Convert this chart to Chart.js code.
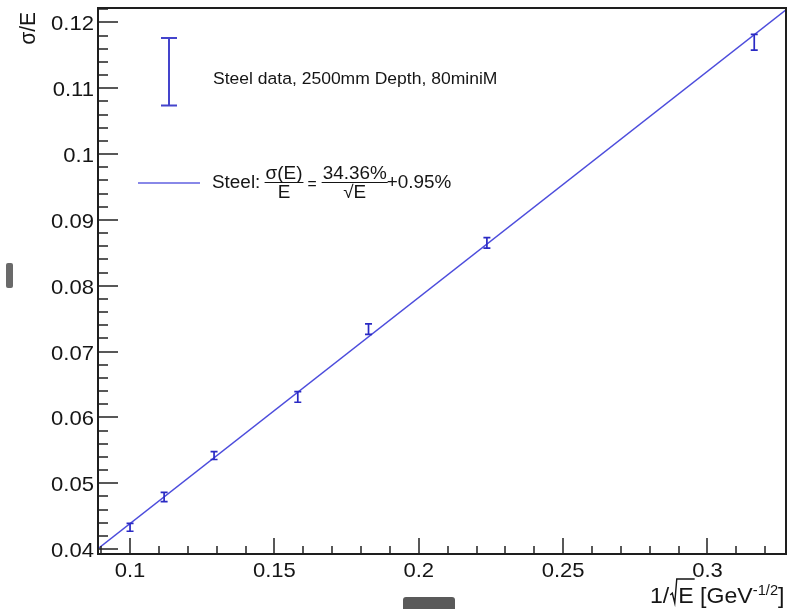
<!DOCTYPE html>
<html>
<head>
<meta charset="utf-8">
<script src="https://cdn.jsdelivr.net/npm/chart.js@4/dist/chart.umd.min.js"></script>
<style>
  html, body { margin: 0; padding: 0; background: #fff; }
  canvas { display: block; }
</style>
</head>
<body>
<canvas id="resChart" width="788" height="609"></canvas>
<script>
// measured points: 1/sqrt(E) for 100, 80, 60, 40, 30, 20, 10 GeV
const invSqrtE = [0.1, 0.1118, 0.1291, 0.1581, 0.1826, 0.2236, 0.3162];
const sigmaOverE = [0.0433, 0.0479, 0.0542, 0.0631, 0.0734, 0.0865, 0.1170];
const sigmaErr = [0.0006, 0.0007, 0.0006, 0.0008, 0.0008, 0.0008, 0.0012];

// fit result as quoted in the legend (stochastic term, constant term)
const fitStochastic = 0.3436;
const fitConstant = 0.0095;

// axis ranges and labelled ticks
const xRange = [0.0889, 0.3272];
const yRange = [0.03924, 0.1222];
const xTicks = [0.1, 0.15, 0.2, 0.25, 0.3];
const xTickLabels = ['0.1', '0.15', '0.2', '0.25', '0.3'];
const yTicks = [0.04, 0.05, 0.06, 0.07, 0.08, 0.09, 0.1, 0.11, 0.12];
const yTickLabels = ['0.04', '0.05', '0.06', '0.07', '0.08', '0.09', '0.1', '0.11', '0.12'];

const FONT = "'Liberation Sans', Arial, Helvetica, sans-serif";
const SX = 1.05;          // slight horizontal widening of all text
const INK = '#151515';
const BAR_BLUE = '#2a2ac4';
const LINE_BLUE = '#4c4cdc';

// fit line spans the whole x range
const fitLine = xRange.map(x => ({ x: x, y: fitStochastic * x + fitConstant }));
const points = invSqrtE.map((x, i) => ({ x: x, y: sigmaOverE[i] }));

// draw text widened by SX, returns advance width
function wideText(ctx, str, x, y, size, align) {
    ctx.save();
    ctx.font = size + 'px ' + FONT;
    ctx.translate(x, y);
    ctx.scale(SX, 1);
    ctx.textAlign = align || 'left';
    ctx.textBaseline = 'alphabetic';
    ctx.fillText(str, 0, 0);
    const w = ctx.measureText(str).width * SX;
    ctx.restore();
    return w;
}
function textW(ctx, str, size) {
    ctx.save();
    ctx.font = size + 'px ' + FONT;
    const w = ctx.measureText(str).width * SX;
    ctx.restore();
    return w;
}

// ==========================================
// ROOT style frame, inward ticks, labels
// ==========================================
const rootFrame = {
    id: 'rootFrame',
    beforeDraw(chart) {
        const ctx = chart.ctx;
        ctx.save();
        ctx.fillStyle = '#fff';
        ctx.fillRect(0, 0, chart.width, chart.height);
        ctx.restore();
    },
    afterDatasetsDraw(chart) {
        const ctx = chart.ctx;
        const a = chart.chartArea;
        const xs = chart.scales.x, ys = chart.scales.y;

        // error bars
        ctx.save();
        ctx.beginPath();
        ctx.rect(a.left, a.top, a.right - a.left, a.bottom - a.top);
        ctx.clip();
        ctx.strokeStyle = BAR_BLUE;
        ctx.lineWidth = 1.7;
        invSqrtE.forEach((xv, i) => {
            const px = xs.getPixelForValue(xv);
            const top = ys.getPixelForValue(sigmaOverE[i] + sigmaErr[i]);
            const bot = ys.getPixelForValue(sigmaOverE[i] - sigmaErr[i]);
            ctx.beginPath();
            ctx.moveTo(px, top); ctx.lineTo(px, bot);
            ctx.moveTo(px - 3.5, top); ctx.lineTo(px + 3.5, top);
            ctx.moveTo(px - 3.5, bot); ctx.lineTo(px + 3.5, bot);
            ctx.stroke();
        });
        ctx.restore();
    },
    afterDraw(chart) {
        const ctx = chart.ctx;
        const a = chart.chartArea;
        const xs = chart.scales.x, ys = chart.scales.y;

        ctx.save();
        ctx.strokeStyle = '#222';
        ctx.lineWidth = 1.5;

        // y ticks (major every 0.01, minor every 0.002)
        ctx.beginPath();
        for (let v = 0.038; v <= yRange[1] + 1e-9; v += 0.002) {
            const py = Math.round(ys.getPixelForValue(v));
            if (py < a.top || py > a.bottom) continue;
            const major = Math.abs(v * 100 - Math.round(v * 100)) < 1e-6;
            ctx.moveTo(a.left, py);
            ctx.lineTo(a.left + (major ? 20 : 10), py);
        }
        // x ticks (major every 0.05, minor every 0.01)
        for (let v = 0.09; v <= xRange[1] + 1e-9; v += 0.01) {
            const px = Math.round(xs.getPixelForValue(v));
            if (px < a.left + 2 || px > a.right) continue;
            const major = Math.abs(v * 20 - Math.round(v * 20)) < 1e-6;
            ctx.moveTo(px, a.bottom);
            ctx.lineTo(px, a.bottom - (major ? 16 : 8));
        }
        ctx.stroke();

        // frame
        ctx.lineWidth = 2;
        ctx.strokeStyle = '#1e1e1e';
        ctx.strokeRect(a.left, a.top, a.right - a.left, a.bottom - a.top);

        // tick labels
        ctx.fillStyle = INK;
        yTicks.forEach((v, i) => {
            wideText(ctx, yTickLabels[i], 94, ys.getPixelForValue(v) + 8, 21, 'right');
        });
        xTicks.forEach((v, i) => {
            wideText(ctx, xTickLabels[i], xs.getPixelForValue(v), 577, 21, 'center');
        });

        // y title, rotated
        ctx.save();
        ctx.font = '21px ' + FONT;
        ctx.translate(35, 12);
        ctx.scale(SX, 1);
        ctx.rotate(-Math.PI / 2);
        ctx.textAlign = 'right';
        ctx.fillText('σ/E', 0, 0);
        ctx.restore();

        // x title: 1/sqrt(E) [GeV^-1/2], radical drawn by hand
        let tx = 650;
        const base = 603;
        tx += wideText(ctx, '1/', tx, base, 22) + 1;
        const ew = textW(ctx, 'E', 22);
        ctx.beginPath();
        ctx.lineWidth = 1.4;
        ctx.strokeStyle = INK;
        ctx.moveTo(tx, base - 8);
        ctx.lineTo(tx + 2, base - 10);
        ctx.lineTo(tx + 4.5, base);
        ctx.lineTo(tx + 6.5, base - 24);
        ctx.lineTo(tx + 8 + ew + 1, base - 24);
        ctx.stroke();
        tx += 8;
        tx += wideText(ctx, 'E', tx, base, 22);
        tx += wideText(ctx, ' [GeV', tx, base, 22);
        tx += wideText(ctx, '-1/2', tx, base - 8, 14);
        wideText(ctx, ']', tx, base, 22);

        // legend: error bar entry
        ctx.strokeStyle = '#4444cc';
        ctx.lineWidth = 2;
        ctx.beginPath();
        ctx.moveTo(169, 38); ctx.lineTo(169, 105.5);
        ctx.moveTo(161, 38); ctx.lineTo(177, 38);
        ctx.moveTo(161, 105.5); ctx.lineTo(177, 105.5);
        ctx.stroke();
        ctx.fillStyle = INK;
        wideText(ctx, 'Steel data, 2500mm Depth, 80miniM', 213, 84, 16.7);

        // legend: fit line entry
        ctx.strokeStyle = '#6060e0';
        ctx.lineWidth = 1.5;
        ctx.beginPath();
        ctx.moveTo(138, 183); ctx.lineTo(200, 183);
        ctx.stroke();

        let lx = 212;
        lx += wideText(ctx, 'Steel: ', lx, 187.5, 18);
        // sigma(E) / E
        const n1 = textW(ctx, 'σ(E)', 18);
        wideText(ctx, 'σ(E)', lx + n1 / 2, 178.5, 18, 'center');
        wideText(ctx, 'E', lx + n1 / 2, 198, 18, 'center');
        ctx.strokeStyle = INK;
        ctx.lineWidth = 1.2;
        ctx.beginPath();
        ctx.moveTo(lx - 1, 182.5); ctx.lineTo(lx + n1 + 1, 182.5);
        ctx.stroke();
        lx += n1 + 5;
        lx += wideText(ctx, '=', lx, 188.5, 15) + 6;
        // 34.36% / sqrt(E)
        const n2 = textW(ctx, '34.36%', 18);
        wideText(ctx, '34.36%', lx + n2 / 2, 178.5, 18, 'center');
        wideText(ctx, '√E', lx + n2 / 2, 198, 18, 'center');
        ctx.beginPath();
        ctx.moveTo(lx - 1, 182.5); ctx.lineTo(lx + n2 + 1, 182.5);
        ctx.stroke();
        lx += n2;
        wideText(ctx, '+0.95%', lx, 187.5, 18);

        // window widgets around the canvas
        ctx.fillStyle = '#6a6a6a';
        ctx.beginPath();
        ctx.roundRect(6, 263, 7, 25, 2);
        ctx.fill();
        ctx.fillStyle = '#5a5a5a';
        ctx.beginPath();
        ctx.roundRect(403, 597, 52, 14, 3);
        ctx.fill();

        ctx.restore();
    }
};

document.addEventListener('DOMContentLoaded', function () {
    const ctx = document.getElementById('resChart').getContext('2d');
    new Chart(ctx, {
        type: 'scatter',
        data: {
            datasets: [
                {
                    type: 'line',
                    label: 'Steel fit',
                    data: fitLine,
                    borderColor: LINE_BLUE,
                    borderWidth: 1.4,
                    pointRadius: 0,
                    fill: false,
                    tension: 0
                },
                {
                    label: 'Steel data, 2500mm Depth, 80miniM',
                    data: points,
                    pointRadius: 0,
                    showLine: false
                }
            ]
        },
        options: {
            responsive: false,
            animation: false,
            layout: { padding: { left: 98, right: 2, top: 8, bottom: 55 } },
            plugins: { legend: { display: false }, tooltip: { enabled: false } },
            scales: {
                x: { type: 'linear', min: xRange[0], max: xRange[1], display: false },
                y: { type: 'linear', min: yRange[0], max: yRange[1], display: false }
            }
        },
        plugins: [rootFrame]
    });
});
</script>
</body>
</html>
